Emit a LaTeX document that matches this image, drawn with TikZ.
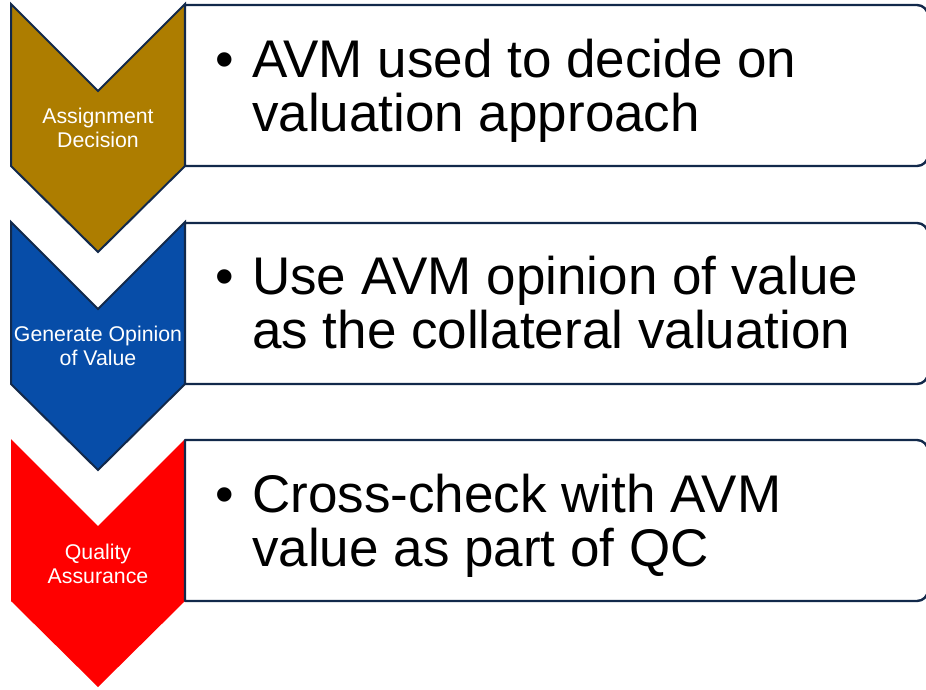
\documentclass[tikz,border=0pt]{standalone}
\usepackage{fontspec}
\setmainfont{Liberation Sans}
\definecolor{navyline}{HTML}{12294B}
\definecolor{stagegold}{HTML}{AD7D00}
\definecolor{stageblue}{HTML}{074DA8}
\definecolor{stagered}{HTML}{FF0000}
\begin{document}
\begin{tikzpicture}[x=1pt,y=-1pt,
  chev/.style={line width=2pt, draw=navyline, line join=miter},
  panel/.style={draw=navyline, line width=2.4pt, fill=white, line join=round},
  stagelabel/.style={text=white, font=\fontsize{21.3}{23.5}\selectfont, align=center, inner sep=0},
  pointtext/.style={font=\fontsize{53}{54}\selectfont, anchor=base west, inner sep=0},
  bulletmark/.style={font=\fontsize{53}{54}\selectfont, anchor=base west, inner sep=0}]
\clip (0,0) rectangle (926,689);
\fill[white] (0,0) rectangle (926,689);

% chevrons
\path[chev, fill=stagegold] (11,4) -- (98,91) -- (185,4) -- (185,166) -- (98,252) -- (11,166) -- cycle;
\path[chev, fill=stageblue] (11,222) -- (98,309) -- (185,222) -- (185,384) -- (98,470) -- (11,384) -- cycle;
\path[fill=stagered] (11,439) -- (98,526) -- (185,439) -- (185,601) -- (98,687) -- (11,601) -- cycle;

% panels with rounded right corners
\path[panel] (185,5) -- (917,5) arc(-90:0:11) -- (928,155) arc(0:90:11) -- (185,166) -- cycle;
\path[panel] (185,223) -- (917,223) arc(-90:0:11) -- (928,373) arc(0:90:11) -- (185,384) -- cycle;
\path[panel] (185,440) -- (917,440) arc(-90:0:11) -- (928,590) arc(0:90:11) -- (185,601) -- cycle;

% stage labels
\node[stagelabel] (s1) at (98,128) {Assignment\\Decision};
\node[stagelabel] (s2) at (98,346) {Generate Opinion\\of Value};
\node[stagelabel] (s3) at (98,564) {Quality\\Assurance};

% bullet points
\node[bulletmark] (b1) at (215,77) {•};
\node[pointtext] (p1a) at (252,77) {AVM used to decide on};
\node[pointtext] (p1b) at (252,131) {valuation approach};

\node[bulletmark] (b2) at (215,294) {•};
\node[pointtext] (p2a) at (252,294) {Use AVM opinion of value};
\node[pointtext] (p2b) at (252,348) {as the collateral valuation};

\node[bulletmark] (b3) at (215,512) {•};
\node[pointtext] (p3a) at (252,512) {Cross-check with AVM};
\node[pointtext] (p3b) at (252,566) {value as part of QC};
\end{tikzpicture}
\end{document}
